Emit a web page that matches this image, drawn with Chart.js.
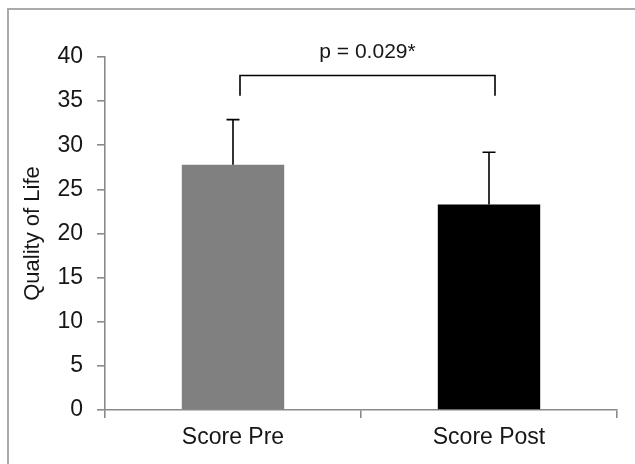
<!DOCTYPE html>
<html>
<head>
<meta charset="utf-8">
<script src="https://cdn.jsdelivr.net/npm/chart.js@4.4.1/dist/chart.umd.min.js"></script>
<style>
  html, body { margin: 0; padding: 0; background: #fff; }
  #wrap { position: relative; width: 635px; height: 464px; overflow: hidden; }
  #frame { position: absolute; left: 7px; top: 8px; width: 700px; height: 600px; border: 2px solid #aaaaaa; }
  canvas { position: absolute; left: 0; top: 0; }
</style>
</head>
<body>
<div id="wrap">
  <div id="frame"></div>
  <canvas id="qolChart" width="635" height="464"></canvas>
</div>
<script>
const categories = ["Score Pre", "Score Post"];
const meanScores = [27.8, 23.3];
const sdScores = [5.1, 5.9];
const barColors = ["#808080", "#000000"];
const yMin = 0;
const yMax = 40;
const yStep = 5;
const pLabel = "p = 0.029*";
const bracketLevel = 37.9;
const bracketFoot = 35.6;
const pLabelLevel = 40.5;

const FONT = "'Liberation Sans', Arial, sans-serif";
const AXIS_GREY = "#8a8a8a";
const TEXT = "#161616";

// error bars (upper only) + significance bracket
const annotations = {
  id: "annotations",
  afterDatasetsDraw(chart) {
    const ctx = chart.ctx;
    const y = chart.scales.y;
    const bars = chart.getDatasetMeta(0).data;
    ctx.save();
    ctx.strokeStyle = "#000";
    ctx.lineWidth = 1.6;
    bars.forEach((bar, i) => {
      const top = y.getPixelForValue(meanScores[i] + sdScores[i]);
      ctx.beginPath();
      ctx.moveTo(bar.x, bar.y);
      ctx.lineTo(bar.x, top);
      ctx.moveTo(bar.x - 6.5, top);
      ctx.lineTo(bar.x + 6.5, top);
      ctx.stroke();
    });

    const x0 = bars[0].x + 7;
    const x1 = bars[1].x + 6;
    const yl = y.getPixelForValue(bracketLevel);
    const yf = y.getPixelForValue(bracketFoot);
    ctx.beginPath();
    ctx.moveTo(x0, yf);
    ctx.lineTo(x0, yl);
    ctx.lineTo(x1, yl);
    ctx.lineTo(x1, yf);
    ctx.stroke();

    ctx.fillStyle = TEXT;
    ctx.font = "21px " + FONT;
    ctx.textAlign = "center";
    ctx.textBaseline = "middle";
    ctx.fillText(pLabel, (x0 + x1) / 2, y.getPixelForValue(pLabelLevel));
    ctx.restore();
  }
};

new Chart(document.getElementById("qolChart"), {
  type: "bar",
  data: {
    labels: categories,
    datasets: [{
      data: meanScores,
      backgroundColor: barColors,
      borderWidth: 0,
      barPercentage: 0.4,
      categoryPercentage: 1.0
    }]
  },
  options: {
    responsive: false,
    animation: false,
    layout: { padding: { top: 57, right: 18, bottom: 0, left: 0 } },
    plugins: {
      legend: { display: false },
      tooltip: { enabled: false }
    },
    scales: {
      x: {
        afterFit: s => { s.height = 54; },
        grid: {
          offset: true,
          drawOnChartArea: false,
          drawTicks: true,
          tickLength: 8,
          color: AXIS_GREY,
          lineWidth: 1.6
        },
        border: { color: AXIS_GREY, width: 1.6 },
        ticks: {
          padding: 6,
          color: TEXT,
          font: { family: FONT, size: 23 }
        }
      },
      y: {
        min: yMin,
        max: yMax,
        afterFit: s => { s.width = 105; },
        grid: {
          drawOnChartArea: false,
          drawTicks: true,
          tickLength: 8,
          color: AXIS_GREY,
          lineWidth: 1.6
        },
        border: { color: AXIS_GREY, width: 1.6 },
        ticks: {
          stepSize: yStep,
          padding: 14,
          color: TEXT,
          font: { family: FONT, size: 23 }
        },
        title: {
          display: true,
          text: "Quality of Life",
          color: TEXT,
          padding: { top: 20, bottom: 0 },
          font: { family: FONT, size: 22 }
        }
      }
    }
  },
  plugins: [annotations]
});
</script>
</body>
</html>
